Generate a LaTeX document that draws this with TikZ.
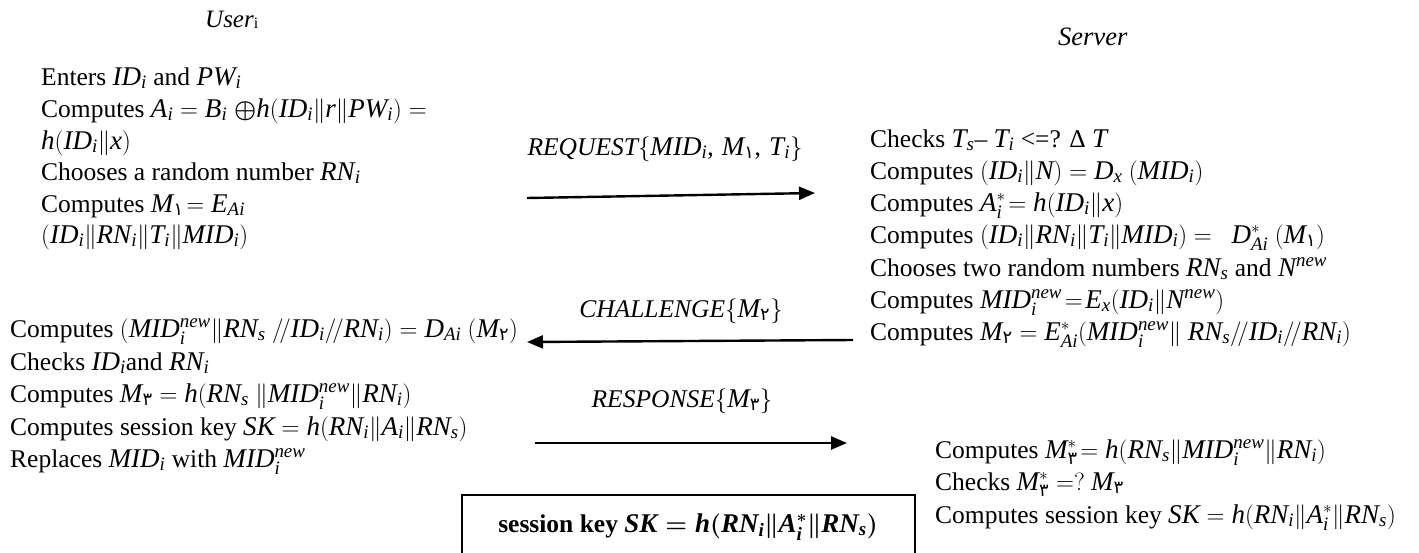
\documentclass[tikz,border=0pt]{standalone}
\usepackage{amsmath}
\usepackage{fontspec}
\setmainfont{Liberation Serif}
\newfontfamily\arabicfont[Script=Arabic]{DejaVu Sans}
\newfontfamily\mlet[NFSSFamily=mletters, Scale=1.06]{Liberation Serif}
\DeclareSymbolFont{letters}{TU}{mletters}{m}{it}
\SetSymbolFont{letters}{bold}{TU}{mletters}{bx}{it}
\mathcode`\,="602C
\mathcode`\/="002F
\newcommand\ad[1]{\text{\upshape\mdseries\arabicfont #1}}
\usetikzlibrary{arrows.meta}
\tikzset{
  ln/.style={anchor=base west, inner sep=0pt, font=\fontsize{25.5}{30}\selectfont},
  lbl/.style={anchor=base, inner sep=0pt, font=\fontsize{25.5}{30}\selectfont\itshape},
  msg/.style={line width=2.4pt, -{Triangle[length=16pt,width=13pt]}},
  keybox/.style={line width=1.2pt}
}
\begin{document}
\begin{tikzpicture}[x=1pt,y=-1pt]
\useasboundingbox (0,0) rectangle (1419,552);
% headings
\node[anchor=base west, inner sep=0pt, font=\fontsize{25}{28}\selectfont] (user) at (205,27) {\textit{User}\raisebox{-1pt}{\fontsize{16}{16}\selectfont i}};
\node[anchor=base west, inner sep=0pt, font=\fontsize{26.5}{30}\selectfont\itshape] (server) at (1058,45) {Server};
% user block 1
\node[ln] (u1) at (41,85)  {Enters $ID_i$ and $PW_i$};
\node[ln] (u2) at (41,117) {Computes $A_i = B_i\;{\boldsymbol{\oplus}}h(ID_i\|r\|PW_i) =$};
\node[ln] (u3) at (41,149) {$h(ID_i\|x)$};
\node[ln] (u4) at (41,180) {Chooses a random number $RN_i$};
\node[ln] (u5) at (41,212) {Computes $M_{\ad{١}}\!= E_{Ai}$};
\node[ln] (u6) at (41,243) {$(ID_i\|RN_i\|T_i\|MID_i)$};
% server block 1
\node[ln] (s1) at (870,147) {Checks $T_s$– $T_i$ <=? Δ $T$};
\node[ln] (s2) at (870,179) {Computes $(ID_i\|N) = D_x\ (MID_i)$};
\node[ln] (s3) at (870,211) {Computes $A_i^*\!= h(ID_i\|x)$};
\node[ln] (s4) at (870,243) {Computes $(ID_i\|RN_i\|T_i\|MID_i) =\ \ D_{Ai}^*\ (M_{\ad{١}})$};
\node[ln] (s5) at (870,276) {Chooses two random numbers $RN_s$ and $N^{new}$};
\node[ln] (s6) at (870,308) {Computes $MID_i^{new}\!=\!E_x(ID_i\|N^{new})$};
\node[ln] (s7) at (870,340) {Computes $M_{\ad{٢}} = E_{Ai}^*(MID_i^{new}\|\ RN_s/\!/ID_i/\!/RN_i)$};
% user block 2
\node[ln] (l1) at (10,337) {Computes $(MID_i^{new}\|RN_s\ /\!/ID_i/\!/RN_i) = D_{Ai}\ (M_{\ad{٢}})$};
\node[ln] (l2) at (10,370) {Checks $ID_i$and $RN_i$};
\node[ln] (l3) at (10,402) {Computes $M_{\ad{٣}} = h(RN_s\ \|MID_i^{new}\|RN_i)$};
\node[ln] (l4) at (10,435) {Computes session key $SK = h(RN_i\|A_i\|RN_s)$};
\node[ln] (l5) at (10,467) {Replaces $MID_i$ with $MID_i^{new}$};
% server block 2
\node[ln] (t1) at (935,458) {Computes $M_{\ad{٣}}^*\!= h(RN_s\|MID_i^{new}\|RN_i)$};
\node[ln] (t2) at (935,490) {Checks $M_{\ad{٣}}^* =?\ M_{\ad{٣}}$};
\node[ln] (t3) at (935,523) {Computes session key $SK = h(RN_i\|A_i^*\|RN_s)$};
% messages
\node[lbl] (req) at (665,155) {REQUEST$\{MID_i,\, M_{\ad{١}},\, T_i\}$};
\coordinate (r1) at (527,198);
\coordinate (r2) at (815,193);
\draw[msg] (r1) -- (r2);
\node[lbl] (cha) at (681,317) {CHALLENGE$\{M_{\ad{٢}}\}$};
\coordinate (c1) at (853,340);
\coordinate (c2) at (527,342);
\draw[msg] (c1) -- (c2);
\node[lbl] (res) at (682,407) {RESPONSE$\{M_{\ad{٣}}\}$};
\coordinate (p1) at (535,443);
\coordinate (p2) at (847,443);
\draw[msg] (p1) -- (p2);
% session key box
\coordinate (b1) at (462,556);
\coordinate (b2) at (462,495);
\coordinate (b3) at (915,495);
\coordinate (b4) at (915,556);
\draw[keybox] (b1) -- (b2) -- (b3) -- (b4);
\node[anchor=base, inner sep=0pt, font=\fontsize{25.5}{30}\selectfont\bfseries\boldmath] (sk) at (688,532) {session key $SK = h(RN_i\|A_i^*\|RN_s)$};
\end{tikzpicture}
\end{document}
